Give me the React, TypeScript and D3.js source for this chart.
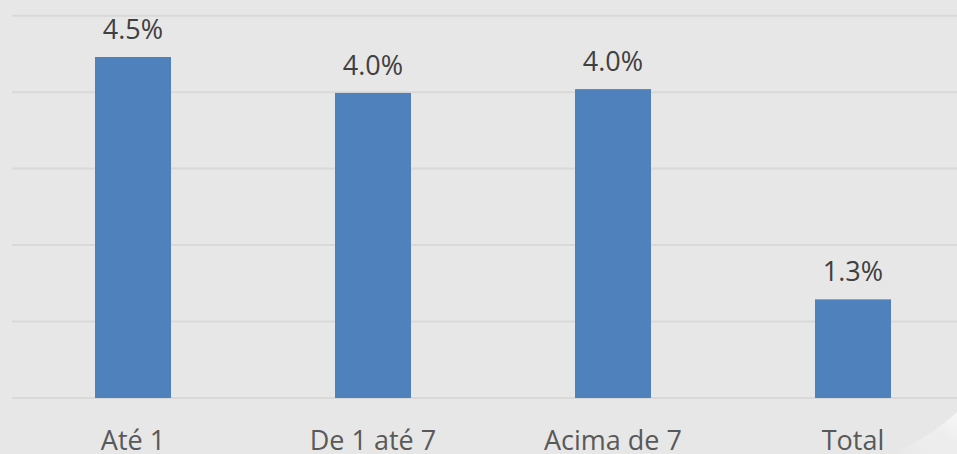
import React from "react";
import * as d3 from "d3";

const categories = ["Até 1", "De 1 até 7", "Acima de 7", "Total"];
const values = [4.46, 3.99, 4.04, 1.29];
const valueLabels = ["4.5%", "4.0%", "4.0%", "1.3%"];
const gridTicks = [0, 1, 2, 3, 4, 5];

const W = 957;
const H = 454;

if (typeof document !== "undefined") {
  document.body.style.margin = "0";
}

export default function App() {
  const x = d3
    .scaleBand<string>()
    .domain(categories)
    .range([13, 973])
    .paddingInner(0.6833)
    .paddingOuter(0.34167);
  const y = d3.scaleLinear().domain([0, 5]).range([398, 15.7]);
  const font = "'Open Sans', 'Noto Sans', sans-serif";

  return (
    <svg width={W} height={H} style={{ display: "block" }}>
      <defs>
        <linearGradient id="curl" x1="0" y1="1" x2="1" y2="0">
          <stop offset="0" stopColor="#ffffff" stopOpacity="0.0" />
          <stop offset="0.6" stopColor="#f2f2f2" stopOpacity="0.6" />
          <stop offset="1" stopColor="#fafafa" stopOpacity="0.9" />
        </linearGradient>
      </defs>
      <rect x={0} y={0} width={W} height={H} fill="#e7e7e7" />
      {gridTicks.map((t) => (
        <line
          key={t}
          x1={12}
          x2={W}
          y1={y(t)}
          y2={y(t)}
          stroke="#d9d9d9"
          strokeWidth={2}
        />
      ))}
      {categories.map((c, i) => (
        <g key={c}>
          <rect
            x={x(c)}
            y={y(values[i])}
            width={x.bandwidth()}
            height={y(0) - y(values[i])}
            fill="#4f81bd"
          />
          <text
            x={(x(c) as number) + x.bandwidth() / 2}
            y={y(values[i]) - 18}
            textAnchor="middle"
            fontFamily={font}
            fontSize={27}
            fill="#404040"
          >
            {valueLabels[i]}
          </text>
          <text
            x={(x(c) as number) + x.bandwidth() / 2}
            y={450}
            textAnchor="middle"
            fontFamily={font}
            fontSize={27}
            fill="#595959"
          >
            {c}
          </text>
        </g>
      ))}
      <path d="M895,454 C920,440 940,428 957,412 L957,454 Z" fill="url(#curl)" />
    </svg>
  );
}
